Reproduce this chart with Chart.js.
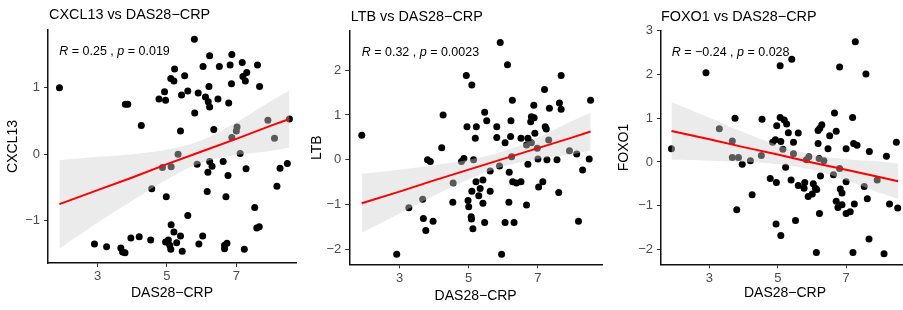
<!DOCTYPE html>
<html>
<head>
<meta charset="utf-8">
<script src="https://cdn.jsdelivr.net/npm/chart.js@4.4.1/dist/chart.umd.min.js"></script>
<style>
  html, body { margin: 0; padding: 0; background: #fff; }
  body { width: 903px; height: 310px; overflow: hidden; position: relative; }
  .panel { position: absolute; top: 0; height: 310px; }
</style>
</head>
<body>
<div class="panel" style="left:0px;width:300px"><canvas id="cxcl13" width="300" height="310"></canvas></div>
<div class="panel" style="left:300px;width:306px"><canvas id="ltb" width="306" height="310"></canvas></div>
<div class="panel" style="left:600px;width:313px"><canvas id="foxo1" width="313" height="310"></canvas></div>
<script>
// tick labels
const xTicks = [3, 5, 7];
const cxclTicks = [-1, 0, 1];
const ltbTicks = [-2, -1, 0, 1, 2];
const foxoTicks = [-2, -1, 0, 1, 2, 3];

// CXCL13 vs DAS28-CRP
const cxclX = [1.90,3.80,3.87,4.26,4.77,4.93,4.96,5.11,5.20,5.22,5.51,5.42,5.60,5.79,5.80,5.39,5.90,6.04,6.11,6.19,
  6.23,6.21,6.23,6.35,6.47,6.51,6.78,6.82,6.87,6.86,7.17,7.19,7.26,7.30,7.61,7.67,7.91,8.53,8.10,7.02,
  7.00,6.87,5.32,7.11,4.87,5.12,5.87,6.23,6.30,6.62,6.18,6.76,7.28,8.26,8.47,8.17,4.56,4.98,6.16,6.70,
  7.53,5.60,5.12,5.20,5.39,6.03,7.59,7.66,2.91,3.26,3.67,3.72,3.79,3.96,4.20,4.53,4.96,5.04,5.08,5.11,
  5.28,5.44,5.92,6.66,6.73,6.66,7.23];
const cxclY = [1.00,0.75,0.75,0.43,0.83,0.94,0.81,1.14,1.10,1.28,1.18,0.89,0.95,1.73,0.62,0.35,0.92,1.32,0.86,0.79,
  0.71,1.02,1.48,0.37,0.83,1.32,0.77,1.34,1.50,1.06,1.38,1.17,1.10,1.23,1.34,1.02,0.51,0.53,0.24,0.41,
  0.35,0.25,0.00,0.01,-0.20,-0.19,-0.15,-0.11,-0.18,-0.11,-0.27,-0.32,-0.22,-0.21,-0.14,-0.48,-0.52,-0.64,-0.56,-0.64,
  -0.80,-0.92,-1.06,-1.17,-1.23,-1.23,-1.11,-1.09,-1.35,-1.39,-1.41,-1.47,-1.48,-1.26,-1.24,-1.29,-1.32,-1.29,-1.37,-1.43,
  -1.33,-1.46,-1.35,-1.37,-1.34,-1.42,-1.43];
const cxclFitX = [1.90, 3, 4, 5, 6, 7, 8, 8.53];
const cxclFitY = [-0.75, -0.54, -0.35, -0.15, 0.04, 0.23, 0.43, 0.53];
const cxclBandLo = [-1.42, -1.03, -0.70, -0.38, -0.13, -0.01, 0.05, 0.10];
const cxclBandHi = [-0.09, -0.04, 0.00, 0.07, 0.21, 0.48, 0.80, 0.96];

// LTB vs DAS28-CRP
const ltbX = [1.91,5.91,6.12,4.93,5.09,7.67,7.19,6.26,8.52,7.62,7.67,7.33,6.88,5.46,4.26,5.52,6.22,6.81,6.89,6.79,
  4.95,5.22,5.81,7.21,7.24,5.19,5.81,6.21,6.05,6.51,6.71,6.91,4.22,6.67,6.81,7.31,6.98,7.91,8.12,3.81,
  3.89,4.86,4.79,5.14,6.24,6.71,7.00,7.26,7.55,8.48,8.29,4.55,5.62,5.89,6.17,5.21,5.41,6.27,6.38,6.51,
  7.14,7.02,5.09,5.33,5.62,5.29,7.60,3.67,4.54,4.98,5.00,5.41,6.16,6.67,3.27,3.69,3.97,5.07,5.08,5.46,
  6.05,6.31,8.17,3.76,5.12,2.92,5.95];
const ltbY = [0.55,2.62,2.12,1.88,1.67,1.88,1.57,1.33,1.33,1.27,1.13,1.15,1.22,1.06,1.00,0.87,0.87,0.96,0.94,0.85,
  0.74,0.74,0.74,0.74,0.69,0.48,0.50,0.52,0.38,0.48,0.48,0.59,0.27,0.33,0.38,0.44,0.26,0.20,0.13,0.00,
  -0.04,0.03,-0.04,0.00,0.07,-0.10,0.02,0.00,0.00,0.02,-0.23,-0.52,-0.25,-0.14,-0.28,-0.49,-0.45,-0.49,-0.52,-0.49,
  -0.49,-0.61,-0.70,-0.64,-0.70,-0.80,-0.73,-0.88,-0.95,-0.91,-1.05,-0.97,-0.95,-1.01,-1.07,-1.31,-1.37,-1.27,-1.32,-1.40,
  -1.40,-1.40,-1.37,-1.58,-1.54,-2.11,-2.11];
const ltbFitX = [1.91, 3, 4, 5, 6, 7, 8, 8.52];
const ltbFitY = [-0.97, -0.71, -0.46, -0.22, 0.02, 0.26, 0.50, 0.63];
const ltbBandLo = [-1.63, -1.20, -0.80, -0.44, -0.15, 0.02, 0.13, 0.21];
const ltbBandHi = [-0.31, -0.22, -0.12, 0.00, 0.19, 0.50, 0.87, 1.05];

// FOXO1 vs DAS28-CRP
const foxoX = [1.89,2.90,5.07,5.41,6.81,7.27,7.58,3.75,4.54,5.07,5.19,5.26,4.97,5.31,5.60,6.66,7.19,6.23,6.29,6.18,
  6.71,6.52,4.93,5.09,5.46,6.18,6.47,7.00,7.22,7.32,7.68,8.18,8.47,3.29,3.67,4.85,5.15,4.52,5.46,5.91,
  3.67,3.85,4.20,3.96,5.84,6.21,6.35,5.23,6.81,6.63,6.25,4.78,4.96,5.39,5.79,6.04,7.00,7.91,5.60,5.77,
  6.10,6.14,6.83,6.88,7.53,4.25,5.89,6.01,7.62,6.71,6.76,6.88,7.24,8.27,8.51,7.00,7.12,3.80,6.22,5.52,
  4.95,5.09,7.67,6.13,7.20,8.11];
const foxoY = [0.30,2.04,2.20,2.35,2.17,2.75,2.01,1.00,0.98,1.02,0.96,0.87,0.83,0.67,0.66,1.12,1.02,0.77,0.85,0.72,
  0.70,0.60,0.51,0.47,0.45,0.42,0.30,0.30,0.42,0.38,0.24,0.13,0.45,0.76,0.48,0.45,0.29,0.15,0.19,0.12,
  0.10,0.10,0.03,-0.05,0.05,0.08,0.03,-0.12,-0.15,-0.29,-0.32,-0.38,-0.47,-0.41,-0.47,-0.50,-0.45,-0.41,-0.54,-0.60,
  -0.60,-0.63,-0.62,-0.71,-0.56,-0.75,-0.79,-0.73,-0.84,-0.90,-1.04,-0.98,-0.96,-0.96,-1.05,-1.18,-1.14,-1.09,-1.18,-1.34,
  -1.42,-1.68,-1.76,-2.07,-2.07,-2.10];
const foxoFitX = [1.89, 3, 4, 5, 6, 7, 8, 8.52];
const foxoFitY = [0.71, 0.52, 0.34, 0.17, -0.01, -0.18, -0.35, -0.44];
const foxoBandLo = [0.05, 0.03, 0.00, -0.05, -0.18, -0.42, -0.71, -0.84];
const foxoBandHi = [1.37, 1.01, 0.68, 0.39, 0.17, 0.06, 0.01, -0.04];

Chart.defaults.font.family = '"Liberation Sans", Arial, sans-serif';

const pts = (xs, ys) => xs.map((x, i) => ({ x: x, y: ys[i] }));
const minus = v => (v < 0 ? '\u2212' + Math.abs(v) : String(v));

// title + "R = .., p = .." text
const panelText = {
  id: 'panelText',
  afterDraw(chart, args, o) {
    const ctx = chart.ctx;
    ctx.save();
    ctx.fillStyle = '#000';
    ctx.textBaseline = 'alphabetic';
    ctx.textAlign = 'left';
    ctx.font = '14.4px "Liberation Sans", Arial, sans-serif';
    ctx.fillText(o.title, o.titleX, o.titleY);

    const plain = '12.5px "Liberation Sans", Arial, sans-serif';
    const ital = 'italic 12.5px "Liberation Sans", Arial, sans-serif';
    const parts = [[ital, 'R'], [plain, ' = ' + o.r + ' , '], [ital, 'p'], [plain, ' = ' + o.p]];
    let x = o.rX;
    parts.forEach(([f, t]) => {
      ctx.font = f;
      ctx.fillText(t, x, o.rY);
      x += ctx.measureText(t).width;
    });
    ctx.restore();
  }
};

function makePanel(id, cfg) {
  const fitLine = pts(cfg.fitX, cfg.fitY);
  new Chart(document.getElementById(id), {
    type: 'scatter',
    data: {
      datasets: [
        { type: 'line', data: fitLine, borderColor: '#ff0000', borderWidth: 2, pointRadius: 0, fill: false, tension: 0 },
        { type: 'line', data: pts(cfg.fitX, cfg.hi), borderColor: 'transparent', pointRadius: 0,
          fill: '+1', backgroundColor: 'rgba(209,209,209,0.43)', tension: 0.4 },
        { type: 'line', data: pts(cfg.fitX, cfg.lo), borderColor: 'transparent', pointRadius: 0, fill: false, tension: 0.4 },
        { type: 'scatter', data: pts(cfg.xs, cfg.ys), pointRadius: 3.5, backgroundColor: '#000', borderWidth: 0 }
      ]
    },
    options: {
      responsive: false,
      animation: false,
      events: [],
      layout: { padding: { top: cfg.top, right: cfg.padRight, bottom: 0, left: 0 } },
      plugins: {
        legend: { display: false },
        tooltip: { enabled: false },
        panelText: cfg.text
      },
      scales: {
        x: {
          type: 'linear',
          min: cfg.xMin, max: cfg.xMax,
          afterBuildTicks: s => { s.ticks = xTicks.map(v => ({ value: v })); },
          afterFit: s => { s.height = 310 - cfg.bottom; },
          grid: { drawOnChartArea: false, drawTicks: true, tickLength: 4, tickColor: '#333', tickWidth: 1 },
          border: { display: true, color: '#111', width: 1.5 },
          ticks: { color: '#4d4d4d', font: { size: 13 }, padding: 2, maxRotation: 0 },
          title: { display: true, text: 'DAS28\u2212CRP', color: '#000', font: { size: 14 },
                   padding: { top: 0, bottom: cfg.xTitlePad } }
        },
        y: {
          type: 'linear',
          min: cfg.yMin, max: cfg.yMax,
          afterBuildTicks: s => { s.ticks = cfg.yTicks.map(v => ({ value: v })); },
          afterFit: s => { s.width = cfg.yAxisW; },
          grid: { drawOnChartArea: false, drawTicks: true, tickLength: 4, tickColor: '#333', tickWidth: 1 },
          border: { display: true, color: '#111', width: 1.5 },
          ticks: { color: '#4d4d4d', font: { size: 13 }, padding: 4, callback: v => minus(v) },
          title: { display: true, text: cfg.yTitle, color: '#000', font: { size: 14 },
                   padding: { top: cfg.yTitlePad, bottom: 0 } }
        }
      }
    },
    plugins: [panelText]
  });
}

makePanel('cxcl13', {
  xs: cxclX, ys: cxclY, fitX: cxclFitX, fitY: cxclFitY, lo: cxclBandLo, hi: cxclBandHi,
  yTicks: cxclTicks, yTitle: 'CXCL13',
  xMin: 1.57, xMax: 8.72, yMin: -1.636, yMax: 1.868,
  top: 30, bottom: 263, yAxisW: 48, padRight: 2.5, yTitlePad: 5, xTitlePad: 8.6,
  text: { title: 'CXCL13 vs DAS28\u2212CRP', titleX: 49, titleY: 19.3, r: '0.25', p: '0.019', rX: 59.3, rY: 55 }
});

makePanel('ltb', {
  xs: ltbX, ys: ltbY, fitX: ltbFitX, fitY: ltbFitY, lo: ltbBandLo, hi: ltbBandHi,
  yTicks: ltbTicks, yTitle: 'LTB',
  xMin: 1.55, xMax: 8.85, yMin: -2.333, yMax: 2.875,
  top: 31, bottom: 264.3, yAxisW: 49.3, padRight: 1.2, yTitlePad: 9, xTitlePad: 5,
  text: { title: 'LTB vs DAS28\u2212CRP', titleX: 50.7, titleY: 20.7, r: '0.32', p: '0.0023', rX: 61.7, rY: 56 }
});

makePanel('foxo1', {
  xs: foxoX, ys: foxoY, fitX: foxoFitX, fitY: foxoFitY, lo: foxoBandLo, hi: foxoBandHi,
  yTicks: foxoTicks, yTitle: 'FOXO1',
  xMin: 1.584, xMax: 8.84, yMin: -2.34, yMax: 3.0,
  top: 30.8, bottom: 264.3, yAxisW: 61, padRight: 0.8, yTitlePad: 16, xTitlePad: 8.6,
  text: { title: 'FOXO1 vs DAS28\u2212CRP', titleX: 61, titleY: 20.5, r: '\u22120.24', p: '0.028', rX: 71.7, rY: 56 }
});
</script>
</body>
</html>
